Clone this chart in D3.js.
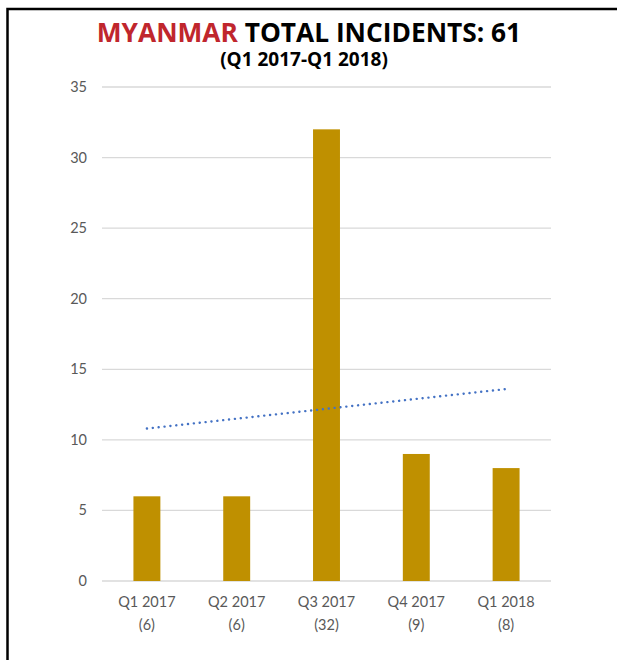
<!DOCTYPE html>
<html>
<head>
<meta charset="utf-8">
<script src="https://cdn.jsdelivr.net/npm/d3@7"></script>
<style>
  body { margin: 0; background: #fff; }
  text { font-family: Lato, "Open Sans", sans-serif; }
  .head { font-family: "Open Sans", sans-serif; }
</style>
</head>
<body>
<script>
const quarters = ["Q1 2017", "Q2 2017", "Q3 2017", "Q4 2017", "Q1 2018"];
const incidents = [6, 6, 32, 9, 8];
const yTicks = [0, 5, 10, 15, 20, 25, 30, 35];

const svgWidth = 617;
const svgHeight = 660;
const plotLeft = 102, plotRight = 551, plotTop = 87, plotBottom = 581;

const svg = d3.select("body").append("svg")
  .attr("width", svgWidth)
  .attr("height", svgHeight);

// frame (left + top edges)
svg.append("path")
  .attr("d", "M7.5," + svgHeight + "V9H" + svgWidth)
  .attr("fill", "none")
  .attr("stroke", "#000")
  .attr("stroke-width", 2.5);

const x = d3.scaleBand().domain(quarters).range([plotLeft, plotRight]).paddingInner(0.7).paddingOuter(0.35);
const y = d3.scaleLinear().domain([0, 35]).range([plotBottom, plotTop]);

// gridlines
svg.append("g").selectAll("line")
  .data(yTicks)
  .join("line")
  .attr("x1", plotLeft).attr("x2", plotRight)
  .attr("y1", d => y(d)).attr("y2", d => y(d))
  .attr("stroke", "#d9d9d9")
  .attr("stroke-width", 1.3);

// y labels
svg.append("g").selectAll("text")
  .data(yTicks)
  .join("text")
  .attr("x", 87)
  .attr("y", d => y(d) + 5)
  .attr("text-anchor", "end")
  .attr("font-size", 14.5)
  .attr("fill", "#595959")
  .text(d => d);

// bars
svg.append("g").selectAll("rect")
  .data(incidents)
  .join("rect")
  .attr("x", (d, i) => x(quarters[i]))
  .attr("width", x.bandwidth())
  .attr("y", d => y(d))
  .attr("height", d => y(0) - y(d))
  .attr("fill", "#bf9000");

// x labels
const xl = svg.append("g").selectAll("text")
  .data(quarters)
  .join("text")
  .attr("text-anchor", "middle")
  .attr("font-size", 14.5)
  .attr("fill", "#595959");
xl.append("tspan")
  .attr("x", d => x(d) + x.bandwidth() / 2)
  .attr("y", 607)
  .text(d => d);
xl.append("tspan")
  .attr("x", d => x(d) + x.bandwidth() / 2)
  .attr("y", 630)
  .text((d, i) => "(" + incidents[i] + ")");

// linear trendline (least squares over the bars)
const n = incidents.length;
const mx = (n + 1) / 2;
const my = d3.mean(incidents);
const slope = d3.sum(incidents, (v, i) => (i + 1 - mx) * (v - my)) / d3.sum(incidents, (v, i) => (i + 1 - mx) ** 2);
const trend = quarters.map((q, i) => [q, my + slope * (i + 1 - mx)]);
svg.append("path")
  .attr("d", d3.line().x(d => x(d[0]) + x.bandwidth() / 2).y(d => y(d[1]))([trend[0], trend[n - 1]]))
  .attr("fill", "none")
  .attr("stroke", "#4472c4")
  .attr("stroke-width", 2.4)
  .attr("stroke-linecap", "round")
  .attr("stroke-dasharray", "0.1,5.8");

// title
const title = svg.append("text")
  .attr("class", "head")
  .attr("x", 309)
  .attr("y", 42)
  .attr("text-anchor", "middle")
  .attr("font-size", 26.3)
  .attr("font-weight", "bold");
title.append("tspan").attr("fill", "#c0262d").text("MYANMAR");
title.append("tspan").attr("fill", "#000").text(" TOTAL INCIDENTS: 61");

svg.append("text")
  .attr("class", "head")
  .attr("x", 304)
  .attr("y", 66)
  .attr("text-anchor", "middle")
  .attr("font-size", 19)
  .attr("font-weight", "bold")
  .attr("fill", "#000")
  .text("(Q1 2017-Q1 2018)");
</script>
</body>
</html>
